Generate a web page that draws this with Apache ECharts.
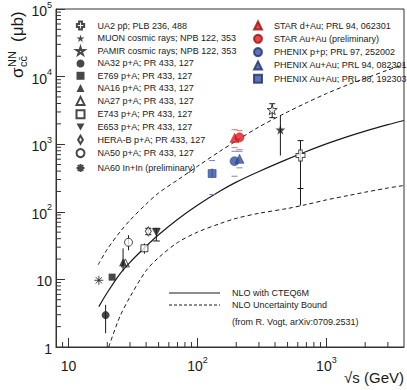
<!DOCTYPE html>
<html>
<head>
<meta charset="utf-8">
<script src="https://cdn.jsdelivr.net/npm/echarts@6/dist/echarts.min.js"></script>
<style>
html, body { margin: 0; padding: 0; background: #fff; }
#chart { width: 407px; height: 390px; }
</style>
</head>
<body>
<div id="chart"></div>
<script>
// values: [√s (GeV), σ (μb)]
const nloCentral = [[17.2, 3.96], [20, 6.4], [25, 12.0], [30, 17.9], [40, 30.9], [50, 45.7], [70, 77], [100, 125],
  [150, 203], [200, 275], [300, 395], [500, 602], [700, 780], [1000, 1009], [1500, 1314], [2000, 1561], [3000, 1943], [4000, 2243]]
const nloUpper = [[17, 16.5], [20, 28], [25, 50], [30, 75], [40, 130], [50, 190], [70, 295], [100, 470],
  [150, 790], [200, 1120], [300, 1800], [500, 3000], [700, 4100], [1000, 5600], [1500, 7700], [2000, 9400], [3000, 12500], [4000, 15000]]
const nloLower = [[20.5, 1.0], [25, 2.8], [30, 5.5], [40, 13.5], [50, 21], [70, 35], [100, 50], [150, 67],
  [200, 80], [300, 95], [500, 112], [700, 128], [1000, 150], [1500, 175], [2000, 195], [3000, 225], [4000, 245]]

const ua2 = [[630, 680]]
const muon = [[440, 1640]]
const pamir = [[380, 3240]]
const na32 = [[19.4, 2.96]]
const e769 = [[21.8, 10.8]]
const na16 = [[26.5, 17.9]]
const na27 = [[27.6, 17.5]]
const e743 = [[38.8, 28.9]]
const e653 = [[48, 49.7]]
const herab = [[41.6, 51.4]]
const na50 = [[29.2, 35.4]]
const na60 = [[17.2, 9.7]]
const starDAu = [[194, 1240]]
const starAuAu = [[212, 1265]]
const phenixPP = [[194, 560]]
const phenixAuAu94 = [[212, 607]]
const phenixAuAu88 = [[130, 368]]

// error bars: [√s, low, high, cap half-width px]
const errBars = [
  [630, 221, 1130, 3], [630, 124, 221, 0],
  [440, 680, 2640, 0],
  [380, 2470, 3970, 3],
  [19.4, 1.6, 4.2, 0],
  [26.5, 13.2, 28.8, 0],
  [29.2, 27, 45, 0],
  [38.8, 24, 34, 0],
  [41.6, 46, 57, 3],
  [48, 37, 57, 3.5],
]
const errBarsBlue = [[130, 322, 437, 0]]
// systematic brackets: [√s, σ]
const sysRed = [[194, 1640], [194, 890], [212, 1590], [212, 830]]
const sysBlue = [[130, 573], [130, 180], [194, 786], [194, 336], [212, 786], [212, 447]]

// minor tick positions
const xMinorTicks = [9, 20, 30, 40, 50, 60, 70, 80, 90, 200, 300, 400, 500, 600, 700, 800, 900, 2000, 3000]
const yMinorTicks = []
for (let d = 1; d < 100000; d *= 10) {
  for (let k = 2; k <= 9; k++) yMinorTicks.push(k * d)
}

const FONT = '"Liberation Sans", Arial, Helvetica, sans-serif'
const INK = '#1a1a1a'
const RED = '#e4161e'
const BLUE = '#3550a6'

const P_CROSS = 'path://M3,0H7V3.5H10V7.5H7V11H3V7.5H0V3.5H3Z'
const P_STAR = 'path://M50,0L61,35H98L68,57L79,91L50,70L21,91L32,57L2,35H39Z'
const P_ASTER = 'path://M5,0V10M0,5H10M1.5,1.5L8.5,8.5M1.5,8.5L8.5,1.5'
const P_INVTRI = 'path://M0,0H10L5,9Z'
const P_DIAM = 'path://M3,0L6,5L3,10L0,5Z'

const openStyle = { color: '#fff', borderColor: INK, borderWidth: 1 }
const fillStyle = { color: INK }

function pt(name, data, symbol, size, itemStyle) {
  return {
    type: 'scatter', name, data, symbol, symbolSize: size,
    itemStyle, z: 5, clip: false,
  }
}

function renderErr(params, api) {
  const x = api.value(0)
  const p1 = api.coord([x, api.value(1)])
  const p2 = api.coord([x, api.value(2)])
  const cap = api.value(3)
  const st = { stroke: api.visual('color'), lineWidth: 1 }
  const children = [{ type: 'line', shape: { x1: p1[0], y1: p1[1], x2: p2[0], y2: p2[1] }, style: st }]
  if (cap) {
    children.push({ type: 'line', shape: { x1: p1[0] - cap, y1: p1[1], x2: p1[0] + cap, y2: p1[1] }, style: st })
    children.push({ type: 'line', shape: { x1: p2[0] - cap, y1: p2[1], x2: p2[0] + cap, y2: p2[1] }, style: st })
  }
  return { type: 'group', children }
}

function renderSys(params, api) {
  const p = api.coord([api.value(0), api.value(1)])
  return {
    type: 'line',
    shape: { x1: p[0] - 3, y1: p[1], x2: p[0] + 3, y2: p[1] },
    style: { stroke: api.visual('color'), lineWidth: 1 },
  }
}

function renderXTick(params, api) {
  const p = api.coord([api.value(0), 1])
  return { type: 'line', shape: { x1: p[0], y1: p[1], x2: p[0], y2: p[1] - 5 }, style: { stroke: '#333', lineWidth: 1 } }
}
function renderYTick(params, api) {
  const p = api.coord([8, api.value(1)])
  return { type: 'line', shape: { x1: p[0], y1: p[1], x2: p[0] + 5, y2: p[1] }, style: { stroke: '#333', lineWidth: 1 } }
}

function powLabel(v) {
  const e = Math.round(Math.log10(v))
  if (Math.abs(v - Math.pow(10, e)) > 1e-6 * v) return ''
  if (e === 0) return '{b|1}'
  if (e === 1) return '{b|10}'
  return '{b|10}{s|' + e + '}'
}
const powRich = {
  b: { fontSize: 14, fontFamily: FONT, color: INK, lineHeight: 18, verticalAlign: 'bottom' },
  s: { fontSize: 9, fontFamily: FONT, color: INK, lineHeight: 18, verticalAlign: 'top' },
}

const leftNames = [
  'UA2 pp\u0304; PLB 236, 488', 'MUON cosmic rays; NPB 122, 353', 'PAMIR cosmic rays; NPB 122, 353',
  'NA32 p+A; PR 433, 127', 'E769 p+A; PR 433, 127', 'NA16 p+A; PR 433, 127', 'NA27 p+A; PR 433, 127',
  'E743 p+A; PR 433, 127', 'E653 p+A; PR 433, 127', 'HERA-B p+A; PR 433, 127', 'NA50 p+A; PR 433, 127',
  'NA60 In+In (preliminary)',
]
const rightNames = [
  'STAR d+Au; PRL 94, 062301', 'STAR Au+Au (preliminary)', 'PHENIX p+p; PRL 97, 252002',
  'PHENIX Au+Au; PRL 94, 082301', 'PHENIX Au+Au; PRL 88, 192303',
]

const chart = echarts.init(document.getElementById('chart'), null, { renderer: 'svg' })

const legendBase = {
  orient: 'vertical', itemWidth: 8, itemHeight: 8, itemGap: 3.3, selectedMode: false,
}
const legendText = { fontSize: 9, fontFamily: FONT, color: INK, lineHeight: 8 }

// NLO key, bottom right
const keyLine = (y, dash) => ({
  type: 'line', shape: { x1: 169, y1: y, x2: 220, y2: y },
  style: { stroke: INK, lineWidth: 1, lineDash: dash },
})
const keyText = (y, text) => ({
  type: 'text', x: 232, y, style: { text, fontSize: 9, fontFamily: FONT, fill: INK, verticalAlign: 'middle' },
})

chart.setOption({
  animation: false,
  backgroundColor: '#fff',
  grid: { left: 56, right: 3, top: 8, bottom: 43, show: true, borderColor: '#333', borderWidth: 1 },
  xAxis: {
    type: 'log', logBase: 10, min: 8, max: 4000,
    axisLine: { lineStyle: { color: '#333' } },
    axisTick: { inside: true, length: 9, lineStyle: { color: '#333' } },
    axisLabel: { formatter: powLabel, rich: powRich, margin: 8, showMinLabel: false, showMaxLabel: false },
    splitLine: { show: false },
  },
  yAxis: {
    type: 'log', logBase: 10, min: 1, max: 100000,
    axisLine: { lineStyle: { color: '#333' } },
    axisTick: { inside: true, length: 9, lineStyle: { color: '#333' } },
    axisLabel: { formatter: powLabel, rich: powRich, margin: 4 },
    splitLine: { show: false },
  },
  legend: [
    { ...legendBase, left: 69, top: 15.5, data: leftNames, textStyle: { ...legendText, padding: [0, 0, 0, 8] } },
    { ...legendBase, left: 248, top: 15.5, data: rightNames, textStyle: { ...legendText, padding: [0, 0, 0, 7] } },
  ],
  graphic: [
    {
      type: 'group', x: 17, y: 78, rotation: Math.PI / 2,
      children: [
        { type: 'text', x: 0, y: 0, style: { text: 'σ', fontSize: 17, fontFamily: FONT, fill: INK, verticalAlign: 'middle' } },
        { type: 'text', x: 11, y: -5, style: { text: 'NN', fontSize: 11, fontFamily: FONT, fill: INK, verticalAlign: 'middle' } },
        { type: 'text', x: 11, y: 6, style: { text: 'cc\u0304', fontSize: 11, fontFamily: FONT, fill: INK, verticalAlign: 'middle' } },
        { type: 'text', x: 36, y: 0, style: { text: '(μb)', fontSize: 17, fontFamily: FONT, fill: INK, verticalAlign: 'middle' } },
      ],
    },
    { type: 'text', right: 3, top: 370, style: { text: '√s (GeV)', fontSize: 15, fontFamily: FONT, fill: INK } },
    keyLine(293, null),
    keyLine(305, [3, 2]),
    keyText(293, 'NLO with CTEQ6M'),
    keyText(305, 'NLO Uncertainty Bound'),
    keyText(322, '(from R. Vogt, arXiv:0709.2531)'),
  ],
  series: [
    { type: 'line', name: 'nlo', data: nloCentral, symbol: 'none', smooth: 0.3, lineStyle: { color: INK, width: 1.2 }, z: 2 },
    { type: 'line', name: 'nloUp', data: nloUpper, symbol: 'none', smooth: 0.3, lineStyle: { color: INK, width: 1, type: [4, 3] }, z: 2 },
    { type: 'line', name: 'nloLow', data: nloLower, symbol: 'none', smooth: 0.3, lineStyle: { color: INK, width: 1, type: [4, 3] }, z: 2 },

    { type: 'custom', name: 'xticks', data: xMinorTicks.map(v => [v, 1]), renderItem: renderXTick, z: 1, silent: true },
    { type: 'custom', name: 'yticks', data: yMinorTicks.map(v => [8, v]), renderItem: renderYTick, z: 1, silent: true },

    { type: 'custom', name: 'err', data: errBars, encode: { x: 0, y: [1, 2] }, renderItem: renderErr, itemStyle: { color: INK }, z: 3 },
    { type: 'custom', name: 'errBlue', data: errBarsBlue, encode: { x: 0, y: [1, 2] }, renderItem: renderErr, itemStyle: { color: BLUE }, z: 3 },
    { type: 'custom', name: 'sysRed', data: sysRed, renderItem: renderSys, itemStyle: { color: '#f07070' }, z: 3 },
    { type: 'custom', name: 'sysBlue', data: sysBlue, renderItem: renderSys, itemStyle: { color: '#6f86cc' }, z: 3 },

    pt(leftNames[0], ua2, P_CROSS, [9, 11], openStyle),
    pt(leftNames[1], muon, P_STAR, 10, fillStyle),
    pt(leftNames[2], pamir, P_STAR, 10, openStyle),
    pt(leftNames[3], na32, 'circle', 8, fillStyle),
    pt(leftNames[4], e769, 'rect', 7, fillStyle),
    pt(leftNames[5], na16, 'triangle', 8, fillStyle),
    pt(leftNames[6], na27, 'triangle', 8, { color: 'rgba(255,255,255,0)', borderColor: INK, borderWidth: 1 }),
    pt(leftNames[7], e743, 'rect', 7, openStyle),
    pt(leftNames[8], e653, P_INVTRI, [9, 8], fillStyle),
    pt(leftNames[9], herab, P_DIAM, [6, 9], openStyle),
    pt(leftNames[10], na50, 'circle', 8, openStyle),
    pt(leftNames[11], na60, P_ASTER, 9, { color: 'none', borderColor: INK, borderWidth: 1 }),

    pt(rightNames[0], starDAu, 'triangle', 9, { color: RED, borderColor: '#9a1010', borderWidth: 0.6 }),
    pt(rightNames[1], starAuAu, 'circle', 9, { color: RED, borderColor: '#9a1010', borderWidth: 0.6 }),
    pt(rightNames[2], phenixPP, 'circle', 9, { color: BLUE, borderColor: '#1e2e6a', borderWidth: 0.6 }),
    pt(rightNames[3], phenixAuAu94, 'triangle', 9, { color: BLUE, borderColor: '#1e2e6a', borderWidth: 0.6 }),
    pt(rightNames[4], phenixAuAu88, 'rect', 8, { color: BLUE, borderColor: '#1e2e6a', borderWidth: 0.6 }),
  ],
})
</script>
</body>
</html>
